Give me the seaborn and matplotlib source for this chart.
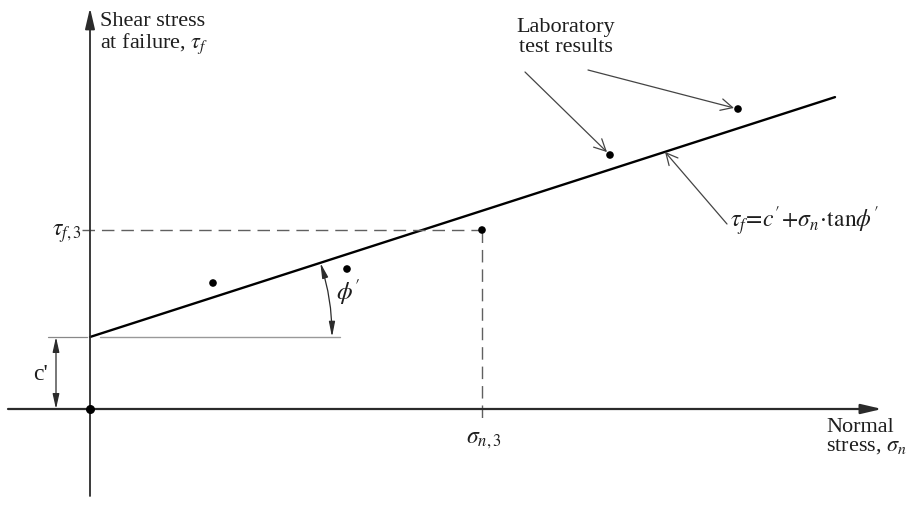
import numpy as np
import pandas as pd
import matplotlib
matplotlib.use("Agg")
import matplotlib.pyplot as plt
from matplotlib.patches import FancyArrowPatch
import seaborn as sns

# Laboratory shear tests (normal stress, shear stress at failure)
sigma_n = [123, 257, 392, 520, 648]
tau_f = [126, 140, 179, 254, 300]

# Mohr-Coulomb envelope parameters
c_prime = 72
tan_phi = 0.322
envelope_sigma = [0, 745]

# Index of the test used for the dashed read-off lines
ref_test = 2

sns.set_theme(style="white")
plt.rcParams["font.family"] = ["Liberation Serif", "DejaVu Serif"]
plt.rcParams["mathtext.fontset"] = "stix"

AX_COL = "#2b2b2b"
TXT_COL = "#1e1e1e"

fig = plt.figure(figsize=(9.11, 5.10), dpi=100)
ax = fig.add_axes([0, 0, 1, 1])
ax.set_xlim(-90, 821)
ax.set_ylim(-100, 410)
ax.axis("off")

# Coordinate axes with filled arrowheads
ax.annotate("", xy=(0, 401), xytext=(0, -87),
            arrowprops=dict(arrowstyle="-|>,head_length=0.9,head_width=0.21",
                            color=AX_COL, lw=1.3, shrinkA=0, shrinkB=0,
                            mutation_scale=14))
ax.annotate("", xy=(792, 0), xytext=(-82, 0),
            arrowprops=dict(arrowstyle="-|>,head_length=0.9,head_width=0.21",
                            color=AX_COL, lw=1.6, shrinkA=0, shrinkB=0,
                            mutation_scale=14))

# Failure envelope
env = pd.DataFrame({"sigma": envelope_sigma,
                    "tau": [c_prime + tan_phi * s for s in envelope_sigma]})
sns.lineplot(data=env, x="sigma", y="tau", ax=ax, color="black", lw=1.7)

# Test points and origin
pts = pd.DataFrame({"sigma": sigma_n, "tau": tau_f})
sns.scatterplot(data=pts, x="sigma", y="tau", ax=ax, color="black",
                s=30, edgecolor="none", zorder=5)
ax.scatter([0], [0], color="black", s=30, zorder=5)

# Dashed read-off lines for test 3
sx, ty = sigma_n[ref_test], tau_f[ref_test]
ax.plot([-8, sx], [ty, ty], color="#606060", lw=1.0, ls=(0, (9, 5)))
ax.plot([sx, sx], [ty, -10], color="#606060", lw=1.0, ls=(0, (9, 5)))
ax.text(-8, ty - 3, r"$\tau_{\mathit{f,3}}$", ha="right", va="center",
        fontsize=17, color=TXT_COL)
ax.text(sx + 2, -20, r"$\sigma_{\mathit{n,3}}$", ha="center", va="top",
        fontsize=17, color=TXT_COL)

# Cohesion intercept dimension
ax.plot([-42, -3], [c_prime, c_prime], color="#888888", lw=0.9)
ax.plot([10, 250], [c_prime, c_prime], color="#999999", lw=1.0)
ax.annotate("", xy=(-34, c_prime), xytext=(-34, 0),
            arrowprops=dict(arrowstyle="<|-|>,head_length=0.9,head_width=0.2",
                            color=AX_COL, lw=0.9, shrinkA=0, shrinkB=0,
                            mutation_scale=10))
ax.text(-49, c_prime / 2, "c'", ha="center", va="center",
        fontsize=17, color=TXT_COL)

# Friction angle arc
R = 242
phi = np.arctan(tan_phi)
arc = FancyArrowPatch((R, c_prime), (R * np.cos(phi), c_prime + R * np.sin(phi)),
                      connectionstyle=f"arc3,rad={np.tan(phi / 4):.4f}",
                      arrowstyle="<|-|>,head_length=0.9,head_width=0.18",
                      mutation_scale=10, color=AX_COL, lw=0.9,
                      shrinkA=0, shrinkB=0)
ax.add_patch(arc)
ax.text(258, 118, r"$\phi'$", ha="center", va="center",
        fontsize=18, color=TXT_COL)

# Axis titles
ax.text(10, 398, "Shear stress\nat failure, $\\tau_f$", ha="left", va="top",
        fontsize=16, color=TXT_COL, linespacing=1.05)
ax.text(736, -8, "Normal\nstress, $\\sigma_n$", ha="left", va="top",
        fontsize=16, color=TXT_COL, linespacing=1.0)

# Labels pointing at the test results
lab_arrow = dict(arrowstyle="->,head_length=0.7,head_width=0.35",
                 color="#444444", lw=0.9, shrinkA=0, shrinkB=3,
                 mutation_scale=12)
ax.text(476, 392, "Laboratory\ntest results", ha="center", va="top",
        fontsize=16, color=TXT_COL, linespacing=1.05)
ax.annotate("", xy=(sigma_n[3], tau_f[3]), xytext=(435, 337), arrowprops=lab_arrow)
ax.annotate("", xy=(sigma_n[4], tau_f[4]), xytext=(498, 339), arrowprops=lab_arrow)

# Envelope equation label
s_lab = 575
ax.annotate("", xy=(s_lab, c_prime + tan_phi * s_lab), xytext=(637, 185),
            arrowprops=dict(lab_arrow, shrinkB=0))
ax.text(640, 182, r"$\tau_f\!=\!c'\!+\!\sigma_n\!\cdot\!\mathrm{tan}\phi'$",
        ha="left", va="baseline", fontsize=17, color=TXT_COL)

fig.savefig("out.png", dpi=100, facecolor="white")
